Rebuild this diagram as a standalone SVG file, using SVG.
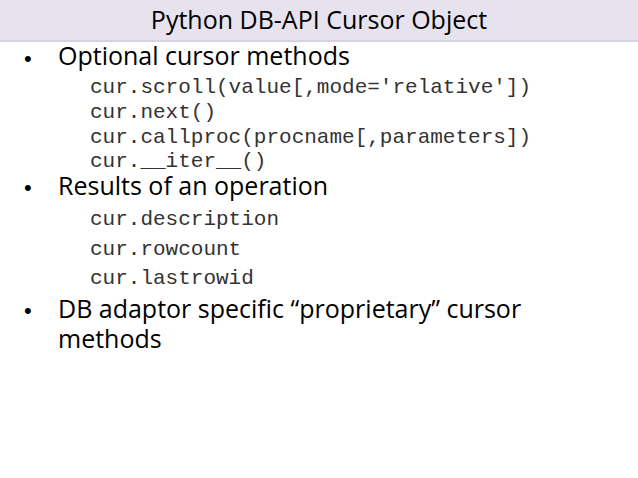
<svg xmlns="http://www.w3.org/2000/svg" width="638" height="478" viewBox="0 0 638 478">
<style>
.b{font-family:"Open Sans","DejaVu Sans",sans-serif;font-size:25px;fill:#000}
.m{font-family:"Liberation Mono",monospace;font-size:21px;fill:#333}
.d{font-family:"Liberation Sans",sans-serif;font-size:22px;fill:#000}
</style>
<rect width="638" height="478" fill="#fff"/>
<rect width="638" height="40" fill="#e6e3ef"/>
<rect y="40" width="638" height="2" fill="#d6d2e2"/>
<text x="319" y="29" text-anchor="middle" class="b">Python DB-API Cursor Object</text>
<text x="24" y="66" class="d">•</text><text x="58" y="65" class="b">Optional cursor methods</text>
<text x="90" y="93" class="m">cur.scroll(value[,mode='relative'])</text>
<text x="90" y="118" class="m">cur.next()</text>
<text x="90" y="143" class="m">cur.callproc(procname[,parameters])</text>
<text x="90" y="167" class="m">cur.__iter__()</text>
<text x="24" y="195" class="d">•</text><text x="58" y="195" class="b">Results of an operation</text>
<text x="90" y="225" class="m">cur.description</text>
<text x="90" y="255" class="m">cur.rowcount</text>
<text x="90" y="284" class="m">cur.lastrowid</text>
<text x="24" y="318" class="d">•</text><text x="58" y="318" class="b">DB adaptor specific “proprietary” cursor</text>
<text x="58" y="348" class="b">methods</text>
</svg>
